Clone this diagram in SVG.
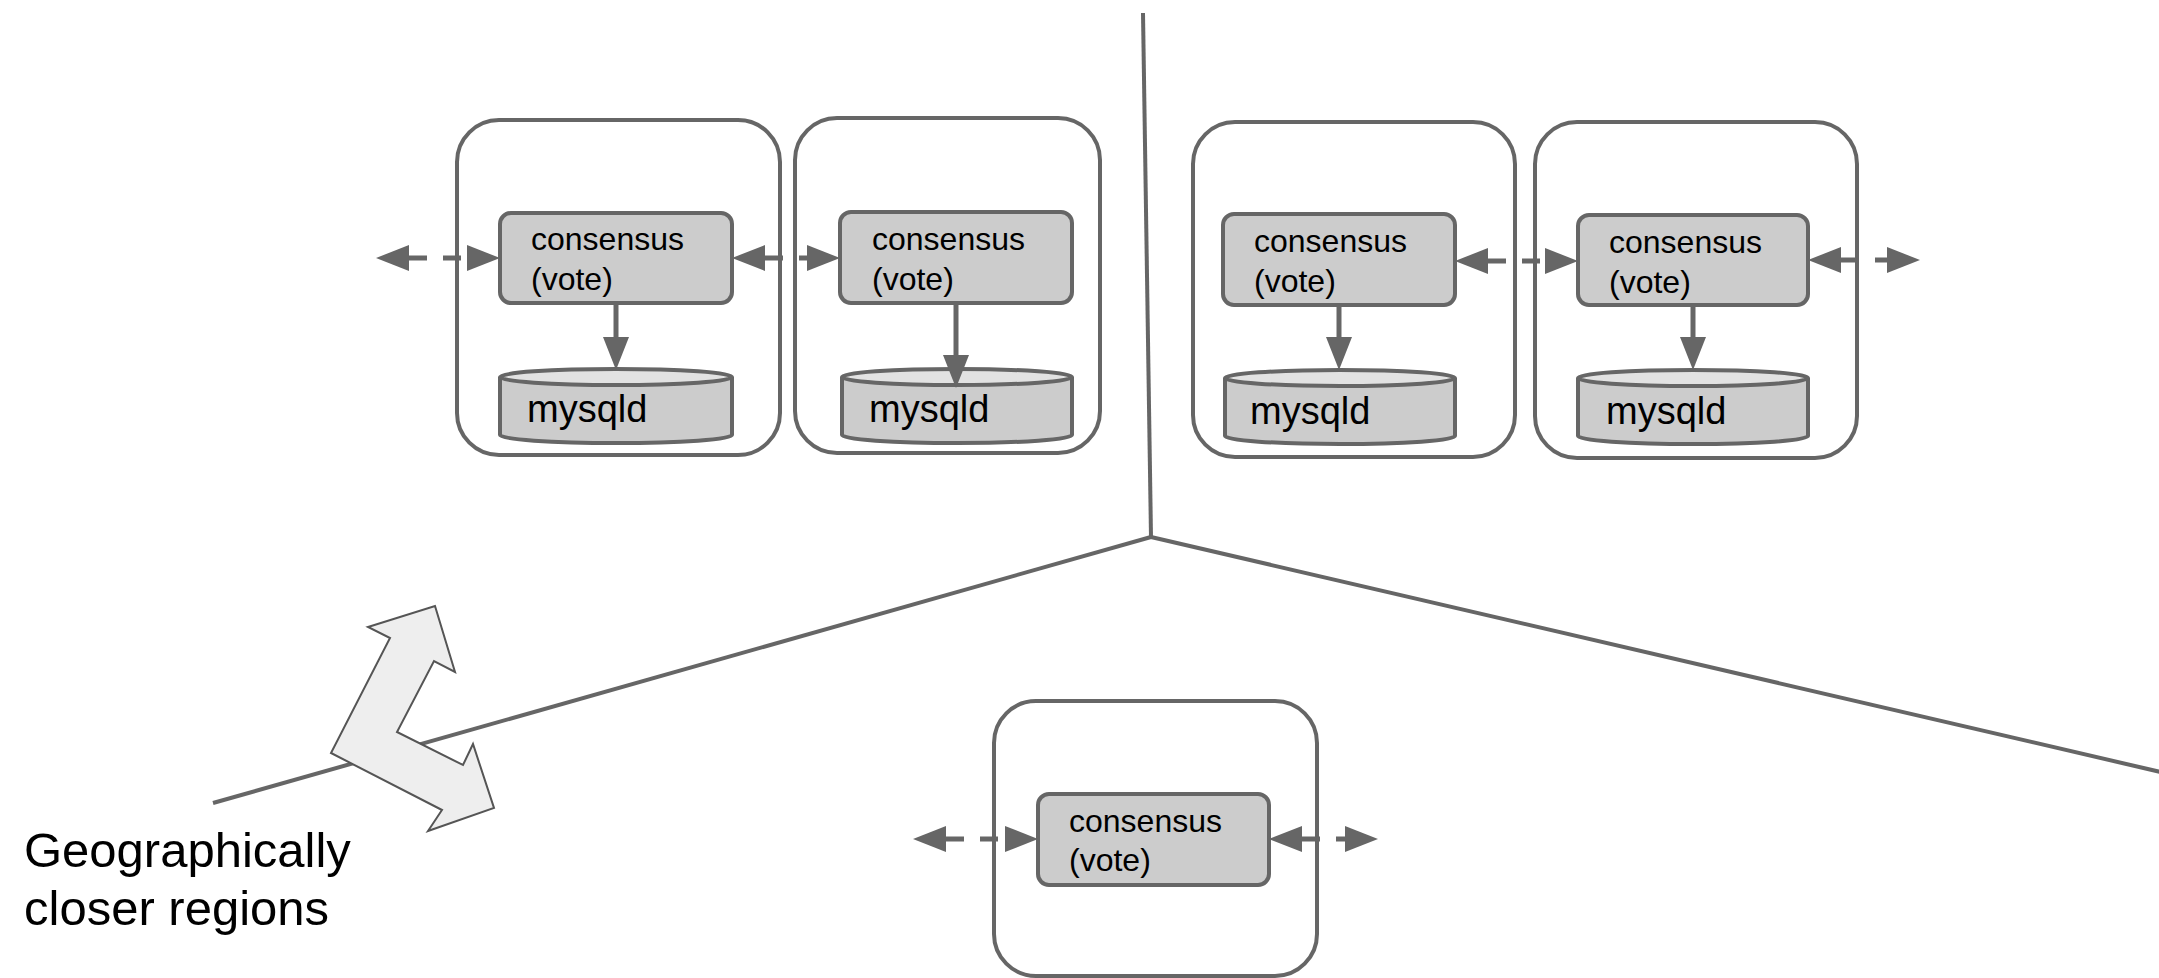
<svg xmlns="http://www.w3.org/2000/svg" width="2159" height="978" viewBox="0 0 2159 978">
<defs>
<style>
.region{fill:#fff;stroke:#666;stroke-width:4}
.cons{fill:#ccc;stroke:#666;stroke-width:4}
.cyl{fill:#ccc;stroke:#666;stroke-width:4}
.cyltop{fill:#e2e2e2;stroke:#666;stroke-width:4}
.t{font-family:"Liberation Sans",Arial,sans-serif;font-size:32px;fill:#000}
.tm{font-family:"Liberation Sans",Arial,sans-serif;font-size:38px;fill:#000}
.tl{font-family:"Liberation Sans",Arial,sans-serif;font-size:49px;fill:#000}
.sep{stroke:#666;stroke-width:4;fill:none}
.dash{stroke:#666;stroke-width:5;fill:none;stroke-dasharray:18 16;marker-start:url(#head);marker-end:url(#head)}
.solid{stroke:#666;stroke-width:5;fill:none;marker-end:url(#head)}
</style>
<marker id="head" markerUnits="userSpaceOnUse" viewBox="0 0 33 26" markerWidth="33" markerHeight="26" refX="0" refY="13" orient="auto-start-reverse">
<path d="M0,0 L33,13 L0,26 Z" fill="#666"/>
</marker>
</defs>
<rect width="2159" height="978" fill="#fff"/>

<g id="separators">
<line class="sep" x1="1143" y1="13" x2="1151" y2="537"/>
<line class="sep" x1="1151" y1="537" x2="213" y2="803"/>
<line class="sep" x1="1151" y1="537" x2="2165" y2="773"/>
</g>

<g id="geo-arrow">
<polygon points="435,606 455,672 434,661 397,732 463,765 473,744 494,808 428,831 442,810 331,753 390,638 368,627" fill="#eee" stroke="#555" stroke-width="2" stroke-linejoin="miter"/>
</g>

<g id="region1">
<rect class="region" x="457" y="120" width="323" height="335" rx="42"/>
</g>
<g id="region2">
<rect class="region" x="795" y="118" width="305" height="335" rx="42"/>
</g>
<g id="region3">
<rect class="region" x="1193" y="122" width="322" height="335" rx="42"/>
</g>
<g id="region4">
<rect class="region" x="1535" y="122" width="322" height="336" rx="42"/>
</g>
<g id="region5">
<rect class="region" x="994" y="701" width="323" height="275" rx="42"/>
</g>

<g id="consensus1">
<rect class="cons" x="500" y="213" width="232" height="90" rx="11"/>
<text class="t" x="531" y="250">consensus</text>
<text class="t" x="531" y="290">(vote)</text>
</g>
<g id="consensus2">
<rect class="cons" x="840" y="212" width="232" height="91" rx="11"/>
<text class="t" x="872" y="250">consensus</text>
<text class="t" x="872" y="290">(vote)</text>
</g>
<g id="consensus3">
<rect class="cons" x="1223" y="214" width="232" height="91" rx="11"/>
<text class="t" x="1254" y="252">consensus</text>
<text class="t" x="1254" y="292">(vote)</text>
</g>
<g id="consensus4">
<rect class="cons" x="1578" y="215" width="230" height="90" rx="11"/>
<text class="t" x="1609" y="253">consensus</text>
<text class="t" x="1609" y="293">(vote)</text>
</g>
<g id="consensus5">
<rect class="cons" x="1038" y="794" width="231" height="91" rx="11"/>
<text class="t" x="1069" y="832">consensus</text>
<text class="t" x="1069" y="871">(vote)</text>
</g>

<g id="mysqld1">
<path class="cyl" d="M500,377 V435 A116,8 0 0 0 732,435 V377"/>
<ellipse class="cyltop" cx="616" cy="377" rx="116" ry="8"/>
<text class="tm" x="527" y="422">mysqld</text>
</g>
<g id="mysqld2">
<path class="cyl" d="M842,377 V435 A115,8 0 0 0 1072,435 V377"/>
<ellipse class="cyltop" cx="957" cy="377" rx="115" ry="8"/>
<text class="tm" x="869" y="422">mysqld</text>
</g>
<g id="mysqld3">
<path class="cyl" d="M1225,378 V436 A115,8 0 0 0 1455,436 V378"/>
<ellipse class="cyltop" cx="1340" cy="378" rx="115" ry="8"/>
<text class="tm" x="1250" y="424">mysqld</text>
</g>
<g id="mysqld4">
<path class="cyl" d="M1578,378 V436 A115,8 0 0 0 1808,436 V378"/>
<ellipse class="cyltop" cx="1693" cy="378" rx="115" ry="8"/>
<text class="tm" x="1606" y="424">mysqld</text>
</g>

<g id="connectors">
<line class="dash" x1="409" y1="258" x2="467" y2="258"/>
<line class="dash" x1="765" y1="258" x2="807" y2="258"/>
<line class="dash" x1="1488" y1="261" x2="1545" y2="261"/>
<line class="dash" x1="1841" y1="260" x2="1887" y2="260"/>
<line class="dash" x1="946" y1="839" x2="1005" y2="839"/>
<line class="dash" x1="1302" y1="839" x2="1345" y2="839"/>
<line class="solid" x1="616" y1="303" x2="616" y2="337"/>
<line class="solid" x1="956" y1="303" x2="956" y2="355"/>
<line class="solid" x1="1339" y1="305" x2="1339" y2="337"/>
<line class="solid" x1="1693" y1="305" x2="1693" y2="337"/>
</g>

<g id="label">
<text class="tl" x="24" y="867">Geographically</text>
<text class="tl" x="24" y="925">closer regions</text>
</g>
</svg>
